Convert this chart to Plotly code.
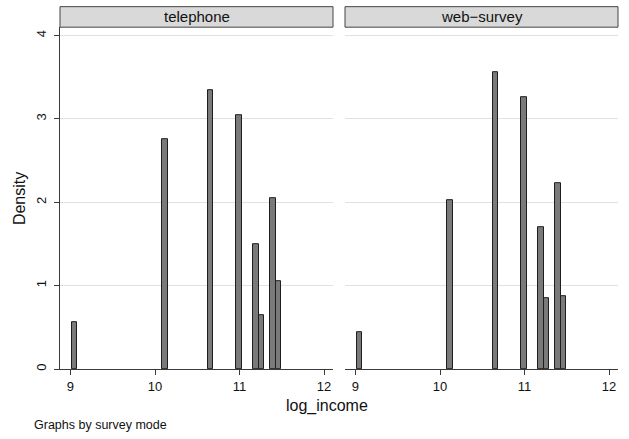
import plotly.graph_objects as go

# Histogram of log income by survey mode (density scale)
bin_centers = [9.049, 10.121, 10.656, 10.991, 11.192, 11.259, 11.393, 11.460]
bin_width = 0.067
density_telephone = [0.557, 2.751, 3.343, 3.041, 1.501, 0.645, 2.047, 1.051]
density_web = [0.446, 2.023, 3.558, 3.264, 1.696, 0.852, 2.226, 0.872]
panel_titles = ["telephone", "web\u2212survey"]
x_ticks = [9, 10, 11, 12]
y_ticks = [0, 1, 2, 3, 4]

W, H = 629, 439
FONT = "Liberation Sans, Arial, sans-serif"
BAR_FILL = "#7a7a7a"
BAR_LINE = "#1e1e1e"
GRID = "#e1e1e1"
AXIS = "#3a3a3a"

# panel geometry in pixels
panels_px = [(60, 333), (345, 618)]
top_px, bottom_px = 27.3, 370.7
strip_top_px = 6.7


def px_x(p):
    return p / W


def px_y(p):
    return (H - p) / H


fig = go.Figure()
for i, vals in enumerate([density_telephone, density_web]):
    suffix = "" if i == 0 else str(i + 1)
    fig.add_trace(go.Bar(
        x=bin_centers, y=vals, width=[bin_width] * len(bin_centers),
        marker=dict(color=BAR_FILL, line=dict(color=BAR_LINE, width=1)),
        xaxis="x" + suffix, yaxis="y" + suffix, showlegend=False,
        hoverinfo="x+y",
    ))

x_range = [8.876, 12.106]
y_range = [0, 4.1]

common_x = dict(
    range=x_range, tickvals=x_ticks, ticks="outside", ticklen=5,
    tickcolor=AXIS, showline=True, linecolor=AXIS, linewidth=1,
    showgrid=False, zeroline=False,
    tickfont=dict(family=FONT, size=13, color="#111"),
)

layout = dict(
    width=W, height=H, margin=dict(l=0, r=0, t=0, b=0),
    paper_bgcolor="white", plot_bgcolor="white", bargap=0,
    xaxis=dict(domain=[px_x(panels_px[0][0]), px_x(panels_px[0][1])],
               anchor="y", **common_x),
    xaxis2=dict(domain=[px_x(panels_px[1][0]), px_x(panels_px[1][1])],
                anchor="y2", **common_x),
    yaxis=dict(domain=[px_y(bottom_px), px_y(top_px)], anchor="x",
               range=y_range, tickvals=y_ticks, ticks="outside", ticklen=5,
               tickcolor=AXIS, showline=True, linecolor=AXIS, linewidth=1,
               showgrid=True, gridcolor=GRID, gridwidth=1, zeroline=False,
               tickangle=-90, ticklabelstandoff=3,
               tickfont=dict(family=FONT, size=13, color="#111")),
    yaxis2=dict(domain=[px_y(bottom_px), px_y(top_px)], anchor="x2",
                range=y_range, tickvals=y_ticks, ticks="",
                showticklabels=False, showline=False,
                showgrid=True, gridcolor=GRID, gridwidth=1, zeroline=False),
)

shapes = []
annotations = []
for (x0, x1), title in zip(panels_px, panel_titles):
    shapes.append(dict(
        type="rect", xref="paper", yref="paper",
        x0=px_x(x0), x1=px_x(x1), y0=px_y(top_px), y1=px_y(strip_top_px),
        fillcolor="#d9d9d9", line=dict(color="#444", width=1),
    ))
    annotations.append(dict(
        text=title, xref="paper", yref="paper",
        x=px_x((x0 + x1) / 2), y=px_y((top_px + strip_top_px) / 2),
        xanchor="center", yanchor="middle", showarrow=False,
        font=dict(family=FONT, size=15, color="#111"),
    ))

annotations += [
    dict(text="Density", xref="paper", yref="paper", x=px_x(19), y=px_y(200),
         xanchor="center", yanchor="middle", textangle=-90, showarrow=False,
         font=dict(family=FONT, size=16, color="#111")),
    dict(text="log_income", xref="paper", yref="paper", x=px_x(326.5),
         y=px_y(408), xanchor="center", yanchor="middle", showarrow=False,
         font=dict(family=FONT, size=16, color="#111")),
    dict(text="Graphs by survey mode", xref="paper", yref="paper",
         x=px_x(32), y=px_y(426.5), xanchor="left", yanchor="middle",
         showarrow=False, font=dict(family=FONT, size=12.5, color="#111")),
]

layout["shapes"] = shapes
layout["annotations"] = annotations
fig.update_layout(**layout)
fig.write_html("out.html")
